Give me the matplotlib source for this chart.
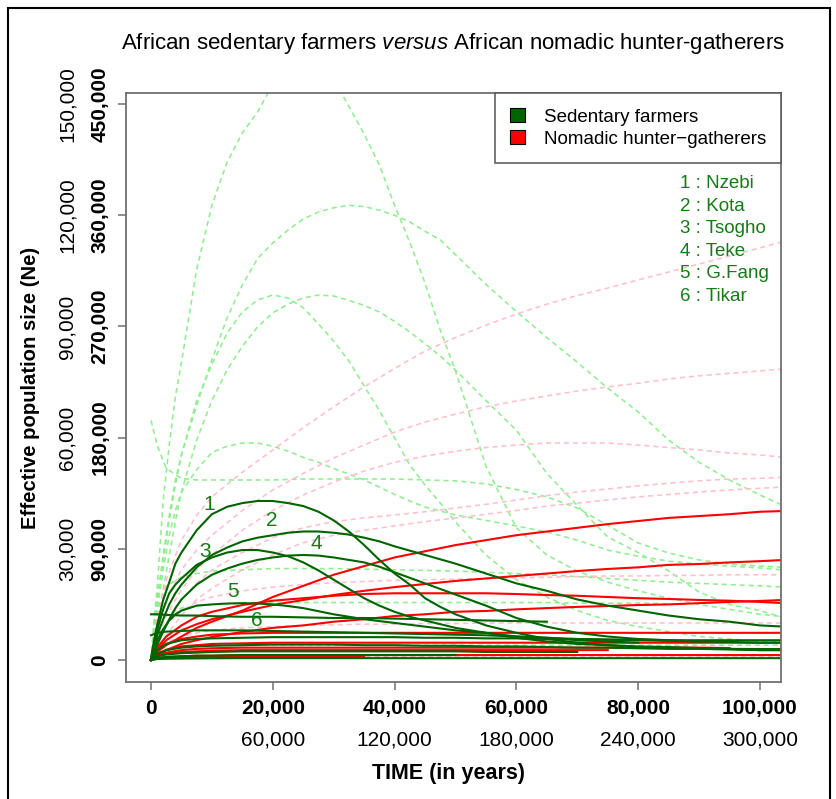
import numpy as np
import matplotlib
matplotlib.use("Agg")
import matplotlib.pyplot as plt
from matplotlib.patches import Patch, Rectangle
from matplotlib.transforms import blended_transform_factory

plt.rcParams['font.family'] = ['Liberation Sans', 'DejaVu Sans']
plt.rcParams['mathtext.fontset'] = 'custom'
plt.rcParams['mathtext.it'] = 'Liberation Sans:italic'
plt.rcParams['mathtext.rm'] = 'Liberation Sans'

# time grids (years)
years = [0, 1000, 2500, 5000, 7500, 10000, 15000, 20000, 25000, 30000, 35000,
         40000, 45000, 50000, 55000, 60000, 65000, 70000, 75000, 80000, 85000,
         90000, 95000, 100000, 104000]
years_fine = [0, 500, 1000, 2000, 3000, 4000, 5000, 7500, 10000, 12500, 15000,
              17500, 20000, 22500, 25000, 27500, 30000, 32500, 35000, 37500,
              40000, 42500, 45000, 47500, 50000, 55000, 60000, 65000, 70000,
              75000, 80000, 85000, 90000, 95000, 100000, 104000]

# Ne trajectories in thousands (None = trajectory stops)
# sedentary farmers, named populations (on years_fine)
nzebi = [1.6, 16, 28, 48.6, 63, 78, 87, 105, 118, 124, 127, 128.7, 128.7, 127, 124.6, 120, 113, 104, 93, 81, 70, 61, 50, 43, 37, 28, 22, 17, 14, 12, 10.5, 9.7, 9.7, 9, 8.9, 8.9]
kota = [0, 10, 20, 33, 45, 54, 61, 75, 85, 91, 96, 99, 101, 103, 104, 104, 103, 101.5, 99, 96, 92, 88.5, 85, 81.5, 78, 70, 62, 56, 49, 44, 40, 36, 33, 31, 28, 27]
tsogho = [0, 13, 24, 41, 54, 61, 66, 77, 83, 87, 89, 89, 87, 84, 79, 72.5, 65, 57.5, 50, 44, 39, 35, 32, 29, 26, 22, 18, 15, 13, 12, 11, 10.5, 9.7, 9, 8, 8]
teke = [0, 6, 12, 23, 33, 42, 49, 61, 69, 74, 78, 81, 83, 84.5, 85, 84.5, 83, 81, 79, 75.5, 71, 66.5, 62, 57.5, 53, 44, 34, 27, 22, 19, 17, 16, 15, 14.6, 14, 14]
gfang = [0, 9, 16, 25, 32, 37, 40, 44, 45, 45.7, 46, 45.7, 45, 43.7, 42, 39.5, 37, 35, 33, 31.5, 30, 28.5, 27, 25.5, 24, 22, 19, 18, 16, 15, 14, None, None, None, None, None]
# sedentary farmers on years
tikar = [37, 37, 36.5, 36, 36, 35.5, 35, 35, 34.5, 34, 34, 33.5, 33, 32.5, 32, 31.5, 31, None, None, None, None, None, None, None, None]
farm_a = [20, 22, 23, 23.5, 24, 24, 24, 23.5, 23, 22.5, 22, 21.5, 21, 20.5, 20, 19, 18, 17, 16.5, 16, 15.5, 15, None, None, None]
farm_b = [0, 8, 13, 16, 17, 17.5, 18, 18.5, 18.5, 18.5, 18.5, 18.5, 18, 18, 17.5, 17.5, 17, 17, 16.5, 16.5, 16, 16, 16, 16, 16]
farm_c = [0, 5, 8, 10, 11, 11.5, 12, 12.5, 12.5, 12.5, 12, 12, 11.5, 11.5, 11, 11, 10.5, 10, 10, 9.5, 9, 9, 8.5, 8, 8]
farm_d = [0, 3, 4.5, 5.5, 6, 6.5, 7, 7, 7, 7, 7, 7, 7, 7, 6.5, 6.5, 6.5, 6.5, None, None, None, None, None, None, None]
farm_e = [0, 1.5, 2.5, 3, 3.5, 3.5, 4, 4, 4, 4, 4, 4, 4, 4, None, None, None, None, None, None, None, None, None, None, None]
farm_f = [0, 0.8, 1, 1.2, 1.3, 1.4, 1.5, 1.5, 1.5, 1.5, 1.5, 1.5, 1.5, 1.5, 1.5, 1.5, 1.5, 1.5, 1.5, 1.5, 1.5, 1.5, 1.5, 1.5, 1.5]

# nomadic hunter-gatherers (on years)
hg_a = [0, 6.5, 12, 19, 26, 31, 40, 51, 60, 69, 76, 83, 88, 93, 97, 101, 104, 107, 110, 112.5, 115, 116.5, 118, 120, 120.6]
hg_b = [0, 8, 16, 24, 29, 33, 39, 44.5, 48.6, 52.6, 56, 59, 61.5, 64, 66, 68, 70, 72, 73.7, 75, 77, 77.7, 79, 80, 81]
hg_c = [0, 10, 19, 28, 35, 39, 44.5, 48, 50, 52, 53.4, 54, 54, 54, 54, 53.4, 52.6, 52, 51, 50, 49.4, 48.6, 48, 47, 46]
hg_d = [0, 4, 8, 13, 16, 18.6, 22.7, 26, 28, 31, 33, 35.6, 37, 39, 39.7, 41, 42, 43, 43.7, 44.5, 45, 46, 47, 47.8, 48.6]
hg_e = [0, 8, 13, 17, 19, 20.5, 21.5, 22, 22, 22, 22, 22, 22, 22, 22, 22, 22, 22, 22, 22, 22, 22, 22, 22, 22]
hg_f = [0, 5, 8, 11, 12, 13, 13.5, 14, 14, 14, 14, 14, 14, 14, 14, 14, 14, 14, 14, 14, 14, 14, 14, 14, 14]
hg_g = [0, 4, 6, 8, 9, 9.5, 10, 10, 10, 10, 10, 10, 10, 10, 10, 10, 10, 10, 10, 10, 10, 10, 9.7, None, None]
hg_h = [0, 3, 5, 6.5, 7, 7.5, 8, 8, 8, 8, 8, 8, 8, 8, 8, 8, 8, 8, 8, None, None, None, None, None, None]
hg_i = [0, 1.5, 2.5, 3, 3.5, 3.5, 4, 4, 4, 4, 4, 4, 4, 4, 4, 4, 4, 4, 4, 4, 4, 4, 4, 4, 4]
hg_j = [0, 1, 1.8, 2.2, 2.4, 2.5, 2.5, 2.5, 2.5, 2.5, 2.5, None, None, None, None, None, None, None, None, None, None, None, None, None, None]

# farmers, second scale (dashed) - strongly peaked ones on years_fine
farm_alt_fine = [
    [0, 32, 57, 129, 174, 213, 241, 316, 368, 403, 426.6, 443.5, 466, 490, 498, 492, 470, 448, 425.7, 400.7, 368, 338, 305, 267, 234, 157, 107, 85, 72, 63, 56, 50, 45, 41, 37, 35],
    [0, 28, 48.6, 85, 117, 145.7, 166, 206, 243, 277, 303.5, 325, 337.5, 348, 357, 362.6, 366, 368, 367, 364, 360, 354.5, 347, 340, 328, 304, 282, 261, 241, 220, 200.7, 178, 160, 145.7, 133.5, 124.6],
    [0, 16, 28, 57, 85, 112, 136, 178, 210, 234.7, 254, 269.5, 281, 288, 293, 295.4, 294.6, 291, 287, 281.7, 274, 265.5, 256, 246, 234.7, 210, 186, 151, 125, 99.6, 87, 72, 55, 45, 40, 34],
    [0, 24, 44.5, 81, 113, 141.6, 166, 210, 239, 264.7, 281.7, 291.4, 295.4, 293, 285, 272, 258, 242, 221.8, 202, 179.7, 157.8, 141.6, 127, 111.7, 85, 65, 51, 40, 32, 27, 23, 19, 17, 15, 14.6],
    [0, 20, 40.5, 73, 101, 121, 136, 154, 168, 173, 175.6, 175.6, 173, 169, 164, 160, 155, 150.5, 145.7, 140, 134, 128.7, 123.8, 120.6, 117.4, 113, 108.5, 103.6, 97, 89, 84, 80, 77.7, 76, 74.5, 72.8],
]
# farmers, second scale (dashed) on years
farm_alt = [
    [194, 174, 155, 147, 145.7, 145.7, 145.7, 145.7, 146.5, 146.5, 146.5, 146.5, 145.7, 145, 142.5, 138, 132, 123, 109, 94.7, 86.6, 81, 77.7, 76, 75],
    [0, 40, 60, 67, 70, 72, 73, 74, 74, 74, 73.5, 73, 72.5, 72, 71, 70, 69, 67.5, 66, 64.5, 63, 62, 61, 60, 59],
    [0, 25, 36, 42, 44, 45, 46, 46.5, 46.5, 46.5, 46.5, 46.5, 46.5, 46.5, 46.5, 46.5, 46.5, 46, 46, 46, 45.5, None, None, None, None],
    [0, 6, 9, 11, 12, 12, 12, 12, 12, 12, 12, 12, 12, 12, 12, 12, 12, 12, 12, 12, 12, 12, 12, 12, 12],
    [0, 1, 1.5, 1.6, 1.6, 1.6, 1.6, 1.6, 1.6, 1.6, 1.6, 1.6, 1.6, 1.6, 1.6, 1.6, 1.6, 1.6, 1.6, 1.6, 1.6, 1.6, 1.6, 1.6, 1.6],
]
# hunter-gatherers, second scale (dashed) on years
hg_alt = [
    [0, 32, 65, 97, 117, 132, 152, 170, 188, 205, 221, 236, 250, 261, 271, 280, 288, 295, 301, 307.6, 314, 320.5, 327, 333.5, 339],
    [0, 24, 49, 73, 89, 101, 121, 137.6, 151, 163.5, 174, 184.5, 192.6, 199, 205, 209.6, 213.7, 217.7, 221, 224, 227.4, 230, 232, 234, 235.5],
    [0, 16, 36, 57, 73, 85, 105, 121, 133.5, 144, 153, 160, 165, 169, 172, 174, 175.6, 175.6, 175.6, 174, 172, 170, 167.5, 166, 164],
    [0, 12, 28, 49, 62, 73, 87, 99, 107, 112, 115, 117.4, 120, 123, 126, 129.5, 133, 136, 138.4, 141, 143, 145, 146.5, 147, 148],
    [0, 8, 20, 36, 49, 58, 73, 85, 95, 101, 105, 108.5, 112, 115, 118, 121, 124.6, 127, 129.5, 132, 134, 136, 137.6, 139, 140],
    [0, 15, 28, 40, 47, 51, 56, 59, 61, 62.5, 63.5, 64.5, 65, 65.5, 66, 66.5, 67, 67.5, 68, 68, 68.5, 68.5, 69, 69, 69],
    [0, 8, 14, 19, 22, 24, 26, 27, 28, 28.5, 29, 29, 29.5, 29.5, 30, 30, 30, 30, 30, 30, 30, 30, 30, 30, 30],
    [0, 1, 1.5, 2, 2, 2, 2.5, 2.5, 2.5, 2.5, 2.5, 2.5, 2.5, 2.5, 2.5, 2.5, 2.5, 2.5, 2.5, 2.5, 2.5, 2.5, 2.5, 2.5, 2.5],
]

farmers_named = [nzebi, kota, tsogho, teke, gfang]
farmers_other = [tikar, farm_a, farm_b, farm_c, farm_d, farm_e, farm_f]
hunters = [hg_a, hg_b, hg_c, hg_d, hg_e, hg_f, hg_g, hg_h, hg_i, hg_j]

population_names = ["Nzebi", "Kota", "Tsogho", "Teke", "G.Fang", "Tikar"]

x_ticks = [0, 20000, 40000, 60000, 80000, 100000]
x_tick_labels = ["0", "20,000", "40,000", "60,000", "80,000", "100,000"]
x_alt_labels = ["", "60,000", "120,000", "180,000", "240,000", "300,000"]
y_ticks = [0, 90000, 180000, 270000, 360000, 450000]
y_tick_labels = ["0", "90,000", "180,000", "270,000", "360,000", "450,000"]
y_alt_labels = ["", "30,000", "60,000", "90,000", "120,000", "150,000"]

DARKGREEN = "#006400"
LIGHTGREEN = "#90EE90"
PINK = "#FFC0CB"
RED = "#FF0000"
FRAME = "#707070"
LABEL_GREEN = "#167a16"

W, H = 837, 799
fig = plt.figure(figsize=(W / 100, H / 100), dpi=100)
ax = fig.add_axes([126 / W, 1 - 682 / H, (781 - 126) / W, (682 - 93) / H])

t = np.array(years, dtype=float)
t_fine = np.array(years_fine, dtype=float)


def ne(vals):
    return np.array(vals, dtype=float) * 1000.0


dash = (0, (3.2, 2.4))
for vals in farm_alt_fine:
    ax.plot(t_fine, ne(vals), color=LIGHTGREEN, lw=1.15, ls=dash)
for vals in farm_alt:
    ax.plot(t, ne(vals), color=LIGHTGREEN, lw=1.15, ls=dash)
for vals in hg_alt:
    ax.plot(t, ne(vals), color=PINK, lw=1.15, ls=dash)
for vals in hunters:
    ax.plot(t, ne(vals), color=RED, lw=1.5)
for vals in farmers_other:
    ax.plot(t, ne(vals), color=DARKGREEN, lw=1.5)
for vals in farmers_named:
    ax.plot(t_fine, ne(vals), color=DARKGREEN, lw=1.5)

ax.set_xlim(-4105, 103450)
ax.set_ylim(-17800, 458900)

for sp in ax.spines.values():
    sp.set_color(FRAME)
    sp.set_linewidth(1.3)

ax.set_xticks(x_ticks)
ax.set_xticklabels(x_tick_labels, fontsize=15, fontweight="bold")
ax.set_yticks(y_ticks)
ax.set_yticklabels(y_tick_labels, fontsize=15, fontweight="bold", rotation=90, va="center")
ax.tick_params(axis="both", length=6, width=1.1, color=FRAME)
ax.tick_params(axis="x", pad=6)
ax.tick_params(axis="y", pad=6)

# second set of axis labels (other scale)
tx = blended_transform_factory(ax.transData, fig.transFigure)
for xv, lab in zip(x_ticks, x_alt_labels):
    if lab:
        ax.text(xv, 1 - 740 / H, lab, transform=tx, ha="center", va="center", fontsize=15)
ty = blended_transform_factory(fig.transFigure, ax.transData)
for yv, lab in zip(y_ticks, y_alt_labels):
    if lab:
        ax.text(67 / W, yv, lab, transform=ty, ha="center", va="center", fontsize=15, rotation=90)

fig.text(31 / W, 1 - 388 / H, "Effective population size (Ne)", rotation=90,
         ha="center", va="center", fontsize=14.6, fontweight="bold")
fig.text(449 / W, 1 - 773 / H, "TIME (in years)", ha="center", va="center",
         fontsize=15.5, fontweight="bold")
fig.text(453 / W, 1 - 43 / H,
         r"African sedentary farmers $\mathit{versus}$ African nomadic hunter-gatherers",
         ha="center", va="center", fontsize=16)

handles = [Patch(facecolor=DARKGREEN, edgecolor="black", lw=0.8),
           Patch(facecolor=RED, edgecolor="black", lw=0.8)]
leg = ax.legend(handles, ["Sedentary farmers", "Nomadic hunter\u2212gatherers"],
                loc="upper right", bbox_to_anchor=(1, 1), borderaxespad=0,
                fancybox=False, framealpha=1, edgecolor="#555555", fontsize=13.5,
                handlelength=0.8, handleheight=0.8, handletextpad=1.0,
                borderpad=0.8, labelspacing=0.22)
leg.get_frame().set_linewidth(1.1)

for i, name in enumerate(population_names):
    fig.text(680 / W, 1 - (184 + 22.4 * i) / H, f"{i + 1} : {name}", ha="left",
             va="center", fontsize=13.5, color=LABEL_GREEN)

# curve numbers next to the named trajectories
curve_label_pos = [(9500, 125500), (19900, 113300), (8900, 88200),
                   (27100, 93900), (13500, 55800), (17400, 31600)]
for i, (xv, yv) in enumerate(curve_label_pos):
    ax.text(xv, yv, str(i + 1), ha="center", va="center", fontsize=15, color=LABEL_GREEN)

fig.patches.append(Rectangle((8 / W, -0.02), (830 - 8) / W, 1.02 - 8 / H,
                             transform=fig.transFigure, fill=False, lw=1.5,
                             ec="black"))

fig.savefig("out.png", dpi=100)
